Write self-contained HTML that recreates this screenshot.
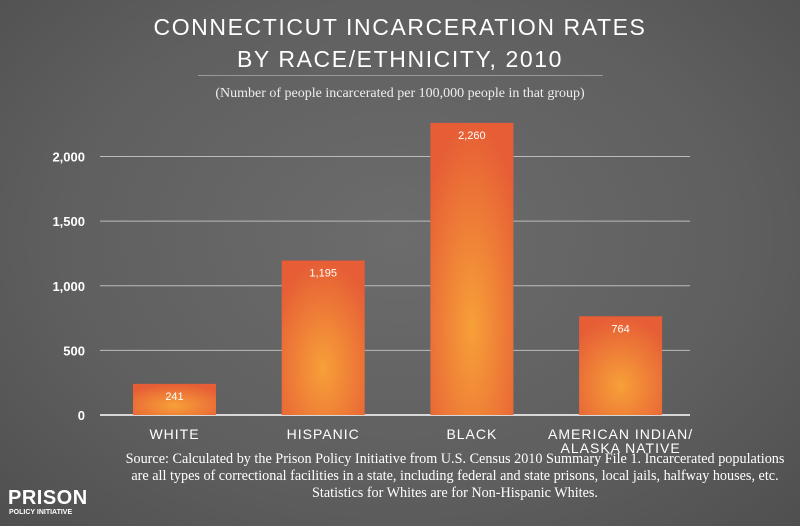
<!DOCTYPE html>
<html><head><meta charset="utf-8"><style>
body{margin:0;width:800px;height:526px;overflow:hidden;font-family:"Liberation Sans",sans-serif;}
#bg{position:absolute;left:0;top:0;width:800px;height:526px;background:radial-gradient(ellipse at 50% 45%,#6c6c6c 0%,#5f5f5f 60%,#4f4f4f 100%);}
.t{position:absolute;color:#fff;text-align:center;}
</style></head><body>
<div id="bg"></div>
<div class="t" style="left:0;top:11px;width:800px;font-size:23px;letter-spacing:1.6px;line-height:32px;">CONNECTICUT INCARCERATION RATES<br>BY RACE/ETHNICITY, 2010</div>
<div style="position:absolute;left:198px;top:75px;width:405px;height:1px;background:#999;"></div>
<div class="t" style="left:0;top:86px;width:800px;font-family:'Liberation Serif',serif;font-size:14px;color:#eee;">(Number of people incarcerated per 100,000 people in that group)</div>
<svg id="chart" width="800" height="526" style="position:absolute;left:0;top:0">
<defs><radialGradient id="g" cx="50%" cy="70%" r="70%"><stop offset="0" stop-color="#f7a038"/><stop offset="1" stop-color="#e65d36"/></radialGradient></defs>
</svg>
<div class="t" style="left:90px;top:451px;width:730px;font-family:'Liberation Serif',serif;font-size:14.2px;line-height:17px;color:#fff;">Source: Calculated by the Prison Policy Initiative from U.S. Census 2010 Summary File 1. Incarcerated populations<br>are all types of correctional facilities in a state, including federal and state prisons, local jails, halfway houses, etc.<br>Statistics for Whites are for Non-Hispanic Whites.</div>
<div class="t" style="left:8px;top:487px;font-size:20px;font-weight:bold;letter-spacing:0.5px;line-height:22px;text-align:left;">PRISON</div>
<div class="t" style="left:9px;top:509px;font-size:7px;font-weight:bold;text-align:left;">POLICY INITIATIVE</div>
<script>
const categories=["WHITE","HISPANIC","BLACK","AMERICAN INDIAN/|ALASKA NATIVE"];
const values=[241,1195,2260,764];
const valueLabels=["241","1,195","2,260","764"];
const ticks=[0,500,1000,1500,2000];
const tickLabels=["0","500","1,000","1,500","2,000"];
const svg=document.getElementById('chart');const NS="http://www.w3.org/2000/svg";
const y0=415,yTop=156.5,x0=100,x1=690;
const y=v=>y0-(y0-yTop)*v/2000;
const bx=i=>133+i*148.7;const bw=83;
function mk(t,a){const e=document.createElementNS(NS,t);for(const k in a)e.setAttribute(k,a[k]);svg.appendChild(e);return e;}
ticks.forEach((t,i)=>{
 const l=mk('line',{x1:x0,x2:x1,y1:y(t),y2:y(t),stroke:t===0?'#fff':'#bbb','stroke-width':t===0?1.5:1});
 
 
 const tx=mk('text',{x:85,y:y(t)+5,'text-anchor':'end',fill:'#fff','font-size':13,'font-weight':'bold','font-family':'Liberation Sans'});
 tx.textContent=tickLabels[i];
 
 
});
values.forEach((v,i)=>{
 const r=mk('rect',{x:bx(i),y:y(v),width:bw,height:y0-y(v),fill:'url(#g)'});
 
 
 const t=mk('text',{x:bx(i)+bw/2,y:y(v)+16,'text-anchor':'middle',fill:'#fff','font-size':11,'font-family':'Liberation Sans'});
 t.textContent=valueLabels[i];
 
 
 categories[i].split('|').forEach((s,j)=>{
  const c=mk('text',{x:bx(i)+bw/2,y:439+j*14,'text-anchor':'middle',fill:'#fff','font-size':14,'letter-spacing':1,'font-family':'Liberation Sans'});
  c.textContent=s;
  
  
 });
});
</script>
</body></html>
